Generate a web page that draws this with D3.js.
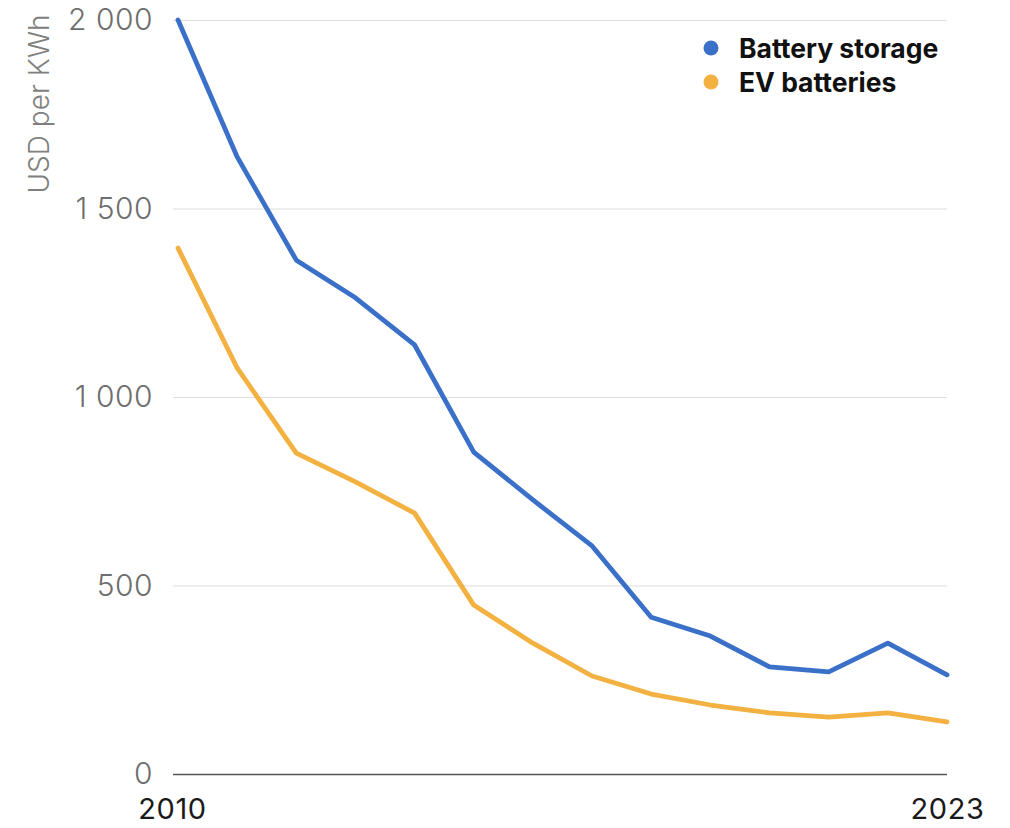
<!DOCTYPE html>
<html>
<head>
<meta charset="utf-8">
<script src="https://cdn.jsdelivr.net/npm/d3@7"></script>
<style>
  html, body { margin: 0; padding: 0; background: #fff; }
  svg { display: block; }
</style>
</head>
<body>
<svg id="chart" width="1010" height="828"></svg>
<script>
// Battery pack prices, USD per kWh
const years = [2010, 2011, 2012, 2013, 2014, 2015, 2016, 2017, 2018, 2019, 2020, 2021, 2022, 2023];
const batteryStorage = [2000, 1637, 1363, 1263, 1138, 854, 727, 605, 416, 366, 284, 271, 347, 263];
const evBatteries = [1395, 1077, 851, 775, 692, 448, 347, 260, 212, 183, 162, 151, 162, 138];
const yTicks = [0, 500, 1000, 1500, 2000];
const xTickLabels = [2010, 2023];
const seriesNames = ["Battery storage", "EV batteries"];
const seriesColors = ["#3b70c9", "#f2b140"];

const svg = d3.select("#chart");
const plot = { left: 173, right: 947, top: 20, bottom: 774, xStart: 178 };

const x = d3.scaleLinear().domain([2010, 2023]).range([plot.xStart, plot.right]);
const y = d3.scaleLinear().domain([0, 2000]).range([plot.bottom, plot.top]);

const fmt = v => v >= 1000 ? d3.format(",")(v).replace(",", " ") : String(v);
const font = "Inter, 'Open Sans', sans-serif";

// gridlines + y tick labels
const yAxis = d3.axisLeft(y).tickValues(yTicks).tickSize(-(plot.right - plot.left)).tickFormat(fmt).tickPadding(20);
const gy = svg.append("g").attr("transform", `translate(${plot.left},0)`).call(yAxis);
gy.select(".domain").remove();
gy.selectAll(".tick line").attr("stroke", d => d === 0 ? "#555" : "#dedede").attr("stroke-width", d => d === 0 ? 1.6 : 1.2);
gy.selectAll(".tick text")
  .attr("fill", "#6e6e6e")
  .style("font-family", font)
  .style("font-weight", 300)
  .style("font-size", "30px")
  .style("letter-spacing", "0.5px");

// y axis title
svg.append("text")
  .attr("transform", `translate(49,104) rotate(-90)`)
  .attr("text-anchor", "middle")
  .attr("fill", "#808080")
  .style("font-family", font)
  .style("font-weight", 300)
  .style("font-size", "28px")
  .text("USD per KWh");

// x tick labels (first and last year only)
const xAxis = d3.axisBottom(x).tickValues(xTickLabels).tickSize(0).tickFormat(d3.format("d"));
const gx = svg.append("g").attr("transform", `translate(0,${plot.bottom})`).call(xAxis);
gx.select(".domain").remove();
gx.selectAll(".tick text")
  .attr("y", 45)
  .attr("dy", 0)
  .attr("fill", "#1a1a1a")
  .attr("dx", d => d === 2010 ? -6 : 0)
  .style("font-family", font)
  .style("font-weight", 400)
  .style("font-size", "29px")
  .style("letter-spacing", "0.6px");

// lines
const line = d3.line().x((d, i) => x(years[i])).y(d => y(d));
[batteryStorage, evBatteries].forEach((vals, k) => {
  svg.append("path")
    .datum(vals)
    .attr("fill", "none")
    .attr("stroke", seriesColors[k])
    .attr("stroke-width", 4.8)
    .attr("stroke-linejoin", "round")
    .attr("stroke-linecap", "round")
    .attr("d", line);
});

// legend
const legend = svg.append("g").attr("transform", "translate(711,48)");
seriesNames.forEach((name, i) => {
  const g = legend.append("g").attr("transform", `translate(0,${i * 34})`);
  g.append("circle").attr("r", 7.5).attr("fill", seriesColors[i]);
  g.append("text")
    .attr("x", 28)
    .attr("dy", "0.36em")
    .attr("fill", "#111")
    .style("font-family", font)
    .style("font-weight", 700)
    .style("font-size", "26.5px")
    .text(name);
});
</script>
</body>
</html>
